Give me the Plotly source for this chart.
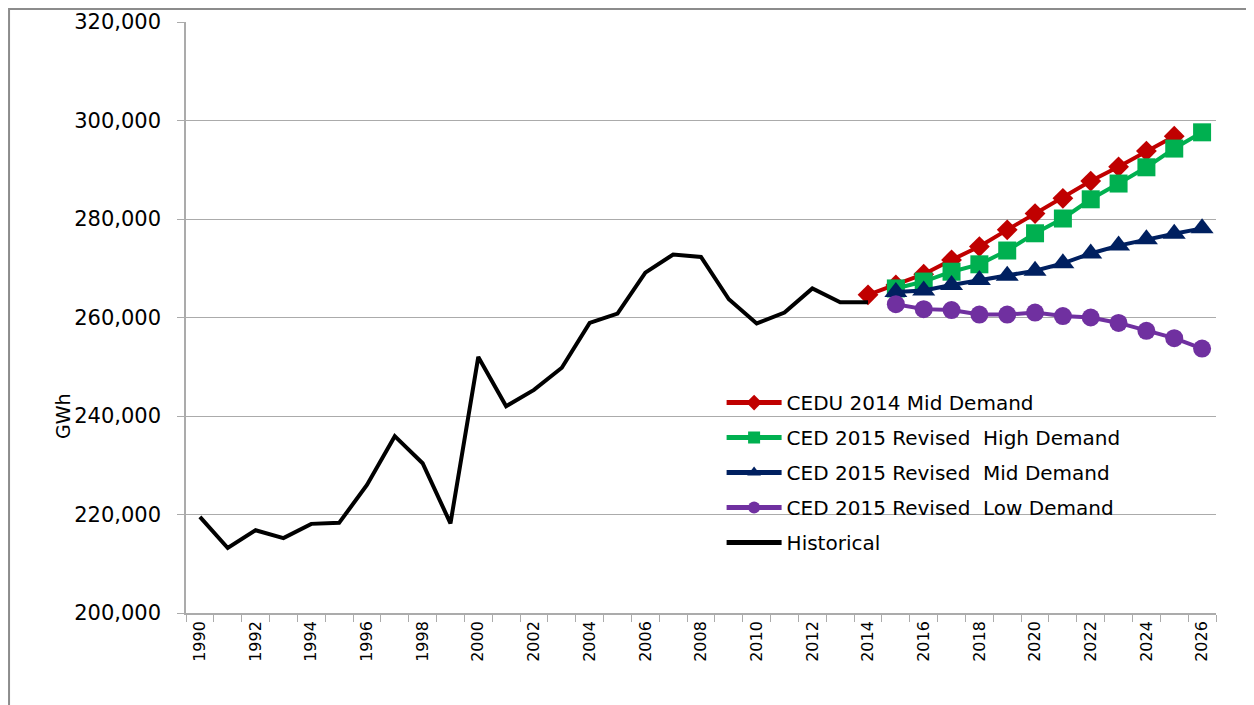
import plotly.graph_objects as go

years_hist = list(range(1990, 2015))
historical = [219500, 213200, 216800, 215200, 218100, 218300, 226000, 235900, 230400, 218200,
              252000, 242000, 245300, 249800, 258900, 260800, 269100, 272800, 272300, 263700,
              258800, 261000, 265900, 263100, 263100]

years_cedu = list(range(2014, 2026))
cedu_mid = [264600, 266600, 268800, 271700, 274400, 277800, 281100, 284200, 287700, 290600, 293800, 296800]

years_ced = list(range(2015, 2027))
ced_high = [265900, 267300, 269300, 270800, 273600, 277100, 280100, 284000, 287200, 290500, 294300, 297600]
ced_mid = [265200, 265500, 266600, 267600, 268500, 269500, 271000, 273000, 274600, 275900, 277000, 278100]
ced_low = [262700, 261700, 261500, 260600, 260600, 261000, 260300, 260000, 258900, 257300, 255800, 253700]

tick_years = list(range(1990, 2027, 2))

names = ["CEDU 2014 Mid Demand", "CED 2015 Revised\u00a0 High Demand", "CED 2015 Revised\u00a0 Mid Demand",
         "CED 2015 Revised\u00a0 Low Demand", "Historical"]
colors = ["#C00000", "#00B050", "#002060", "#7030A0", "#000000"]

fig = go.Figure()
fig.add_trace(go.Scatter(x=years_cedu, y=cedu_mid, name=names[0], mode="lines+markers",
                         line=dict(color=colors[0], width=4),
                         marker=dict(symbol="diamond", size=16, color=colors[0]), legendgroup="a"))
fig.add_trace(go.Scatter(x=years_ced, y=ced_high, name=names[1], mode="lines+markers",
                         line=dict(color=colors[1], width=4),
                         marker=dict(symbol="square", size=18, color=colors[1]), legendgroup="b"))
fig.add_trace(go.Scatter(x=years_ced, y=ced_mid, name=names[2], mode="lines+markers",
                         line=dict(color=colors[2], width=4),
                         marker=dict(symbol="triangle-up", size=20, color=colors[2]), legendgroup="c"))
fig.add_trace(go.Scatter(x=years_ced, y=ced_low, name=names[3], mode="lines+markers",
                         line=dict(color=colors[3], width=4),
                         marker=dict(symbol="circle", size=18, color=colors[3]), legendgroup="d"))
fig.add_trace(go.Scatter(x=years_hist, y=historical, name=names[4], mode="lines",
                         line=dict(color=colors[4], width=4), legendgroup="e"))

grid = "#ABABAB"
fig.update_layout(
    width=1246, height=697,
    margin=dict(l=178, r=38, t=14, b=92, autoexpand=False),
    paper_bgcolor="white", plot_bgcolor="white",
    font=dict(family="DejaVu Sans", color="black"),
    showlegend=True,
    legend=dict(x=0.52, y=0.389, xanchor="left", yanchor="top", bgcolor="rgba(0,0,0,0)",
                font=dict(family="DejaVu Sans", size=20), itemsizing="constant",
                itemwidth=55, tracegroupgap=6, traceorder="grouped"),
    xaxis=dict(range=[1989.5, 2026.5], tickmode="array", tickvals=tick_years,
               ticktext=[str(y) for y in tick_years], tickangle=-90, ticks="",
               tickfont=dict(family="DejaVu Sans", size=16), automargin=False,
               showgrid=False, showline=True, linecolor=grid, linewidth=1.5,
               minor=dict(tick0=1989.5, dtick=1, ticks="outside", ticklen=7, tickcolor=grid, showgrid=False),
               zeroline=False),
    yaxis=dict(range=[200000, 320000], dtick=20000, tickformat=",", ticks="outside", ticklen=7,
               tickcolor=grid, tickfont=dict(family="DejaVu Sans", size=21), ticklabelstandoff=12,
               automargin=False,
               showgrid=True, gridcolor=grid, gridwidth=1.2, showline=True, linecolor=grid,
               linewidth=1.5, zeroline=False),
    annotations=[dict(text="GWh", x=-0.1194, y=0.3333, xref="paper", yref="paper", showarrow=False,
                      xanchor="center", yanchor="middle",
                      textangle=-90, font=dict(family="DejaVu Sans", size=19))],
    shapes=[dict(type="rect", xref="paper", yref="paper", x0=-0.1718, x1=1.2, y0=-0.3, y1=1.022,
                 line=dict(color="#8C8C8C", width=2))],
)

fig.write_html("out.html")
